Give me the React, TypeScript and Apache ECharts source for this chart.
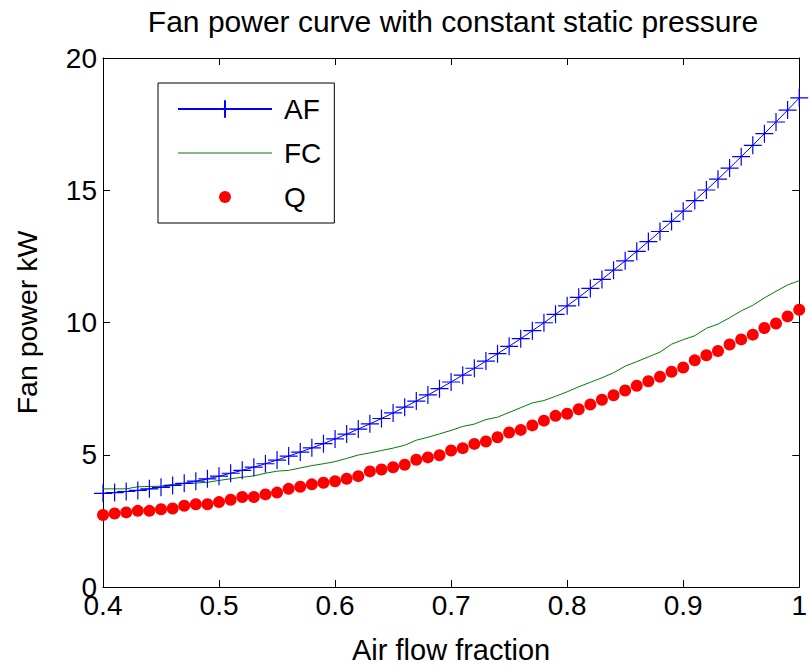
import React, { useEffect, useRef } from 'react';
import * as echarts from 'echarts';

const airFlow = [
  0.40, 0.41, 0.42, 0.43, 0.44, 0.45, 0.46, 0.47, 0.48, 0.49,
  0.50, 0.51, 0.52, 0.53, 0.54, 0.55, 0.56, 0.57, 0.58, 0.59,
  0.60, 0.61, 0.62, 0.63, 0.64, 0.65, 0.66, 0.67, 0.68, 0.69,
  0.70, 0.71, 0.72, 0.73, 0.74, 0.75, 0.76, 0.77, 0.78, 0.79,
  0.80, 0.81, 0.82, 0.83, 0.84, 0.85, 0.86, 0.87, 0.88, 0.89,
  0.90, 0.91, 0.92, 0.93, 0.94, 0.95, 0.96, 0.97, 0.98, 0.99,
  1.00,
];

const afPower = [
  3.54, 3.57, 3.61, 3.65, 3.71, 3.77, 3.84, 3.92, 4.00, 4.09,
  4.19, 4.30, 4.41, 4.53, 4.66, 4.80, 4.95, 5.10, 5.26, 5.42,
  5.60, 5.78, 5.97, 6.17, 6.37, 6.58, 6.80, 7.03, 7.26, 7.50,
  7.75, 8.01, 8.27, 8.54, 8.82, 9.10, 9.39, 9.69, 9.99, 10.31,
  10.63, 10.95, 11.29, 11.63, 11.98, 12.33, 12.69, 13.06, 13.44, 13.82,
  14.21, 14.61, 15.01, 15.42, 15.84, 16.27, 16.70, 17.14, 17.58, 18.03,
  18.49,
];

const fcPower = [
  3.71, 3.71, 3.71, 3.79, 3.80, 3.81, 3.88, 3.91, 3.93, 3.96,
  4.03, 4.09, 4.15, 4.20, 4.30, 4.38, 4.41, 4.50, 4.59, 4.66,
  4.74, 4.86, 4.99, 5.07, 5.16, 5.25, 5.36, 5.55, 5.66, 5.79,
  5.92, 6.07, 6.16, 6.33, 6.42, 6.60, 6.78, 6.96, 7.05, 7.21,
  7.38, 7.57, 7.74, 7.91, 8.10, 8.35, 8.52, 8.70, 8.88, 9.18,
  9.35, 9.50, 9.78, 9.94, 10.18, 10.44, 10.65, 10.93, 11.18, 11.42,
  11.58,
];

const qPower = [
  2.72, 2.78, 2.82, 2.88, 2.88, 2.94, 2.97, 3.07, 3.13, 3.13,
  3.21, 3.30, 3.40, 3.40, 3.50, 3.57, 3.71, 3.79, 3.88, 3.94,
  4.00, 4.09, 4.19, 4.37, 4.44, 4.53, 4.62, 4.81, 4.90, 4.98,
  5.16, 5.25, 5.41, 5.50, 5.66, 5.84, 5.94, 6.11, 6.29, 6.47,
  6.55, 6.72, 6.90, 7.08, 7.25, 7.43, 7.61, 7.78, 7.95, 8.14,
  8.30, 8.57, 8.76, 8.92, 9.17, 9.36, 9.54, 9.79, 9.96, 10.23,
  10.48,
];

const seriesNames = ['AF', 'FC', 'Q'];
const titleText = 'Fan power curve with constant static pressure';
const xAxisName = 'Air flow fraction';
const yAxisName = 'Fan power kW';

const FONT = '"Liberation Sans", Arial, Helvetica, sans-serif';

function pairs(xs: number[], ys: number[]) {
  return xs.map((x, i) => [x, ys[i]]);
}

export default function App() {
  const ref = useRef<HTMLDivElement>(null);

  useEffect(() => {
    document.body.style.margin = '0';
    const chart = echarts.init(ref.current!, null, { renderer: 'svg' });
    const plusPath = 'path://M0,10L20,10M10,0L10,20';
    const dotIcon = 'path://M0,0M22,22M11,5A6,6,0,1,1,11,17A6,6,0,1,1,11,5Z';
    const lineIcon = 'path://M0,0M94,22M0,10.5L94,10.5L94,11.5L0,11.5Z';
    const tickStyle = { show: true, inside: true, length: 7, lineStyle: { color: '#000', width: 1 } };
    const lineStyle = { color: '#000', width: 1 };
    const option: any = {
      animation: false,
      backgroundColor: '#fff',
      textStyle: { fontFamily: FONT, color: '#000' },
      graphic: [
        {
          type: 'text',
          x: 453,
          y: 6,
          style: {
            text: titleText,
            font: `30px ${FONT}`,
            fill: '#000',
            textAlign: 'center',
            textVerticalAlign: 'top',
          },
        },
      ],
      grid: { left: 103, right: 6, top: 58, bottom: 77, containLabel: false },
      legend: {
        orient: 'vertical',
        left: 158,
        top: 83,
        padding: [12, 13, 12, 19],
        borderColor: '#000',
        borderWidth: 1,
        backgroundColor: '#fff',
        itemWidth: 94,
        itemHeight: 22,
        itemGap: 16,
        textStyle: { fontFamily: FONT, fontSize: 28, color: '#000', padding: [0, 0, 0, 7] },
        data: [
          { name: 'AF' },
          { name: 'FC', icon: lineIcon },
          { name: 'Q', icon: dotIcon },
        ],
      },
      xAxis: [
        {
          type: 'value',
          min: 0.4,
          max: 1,
          interval: 0.1,
          position: 'bottom',
          name: xAxisName,
          nameLocation: 'middle',
          nameGap: 48,
          nameTextStyle: { fontFamily: FONT, fontSize: 29, color: '#000' },
          axisLine: { show: true, onZero: false, lineStyle },
          axisTick: tickStyle,
          axisLabel: { fontFamily: FONT, fontSize: 28, color: '#000', margin: 8, lineHeight: 20 },
          splitLine: { show: false },
        },
        {
          type: 'value',
          min: 0.4,
          max: 1,
          interval: 0.1,
          position: 'top',
          axisLine: { show: true, onZero: false, lineStyle },
          axisTick: tickStyle,
          axisLabel: { show: false },
          splitLine: { show: false },
        },
      ],
      yAxis: [
        {
          type: 'value',
          min: 0,
          max: 20,
          interval: 5,
          position: 'left',
          name: yAxisName,
          nameLocation: 'middle',
          nameGap: 62,
          nameTextStyle: { fontFamily: FONT, fontSize: 28.5, color: '#000' },
          axisLine: { show: true, onZero: false, lineStyle },
          axisTick: tickStyle,
          axisLabel: { fontFamily: FONT, fontSize: 28, color: '#000', margin: 6, lineHeight: 16 },
          splitLine: { show: false },
        },
        {
          type: 'value',
          min: 0,
          max: 20,
          interval: 5,
          position: 'right',
          axisLine: { show: true, onZero: false, lineStyle },
          axisTick: tickStyle,
          axisLabel: { show: false },
          splitLine: { show: false },
        },
      ],
      series: [
        {
          name: seriesNames[0],
          type: 'line',
          data: pairs(airFlow, afPower),
          symbol: plusPath,
          symbolSize: 18,
          showSymbol: true,
          showAllSymbol: true,
          lineStyle: { color: '#0000ff', width: 1 },
          itemStyle: { color: '#0000ff', borderColor: '#0000ff', borderWidth: 1.2 },
          z: 3,
        },
        {
          name: seriesNames[1],
          type: 'line',
          data: pairs(airFlow, fcPower),
          symbol: 'none',
          lineStyle: { color: '#008000', width: 1 },
          itemStyle: { color: '#008000' },
          z: 3,
        },
        {
          name: seriesNames[2],
          type: 'scatter',
          data: pairs(airFlow, qPower),
          symbol: 'circle',
          symbolSize: 12,
          itemStyle: { color: '#ff0000', opacity: 1 },
          z: 4,
        },
      ],
    };
    chart.setOption(option);
    return () => chart.dispose();
  }, []);

  return <div ref={ref} style={{ width: 810, height: 669, position: 'absolute', left: 0, top: 0 }} />;
}
